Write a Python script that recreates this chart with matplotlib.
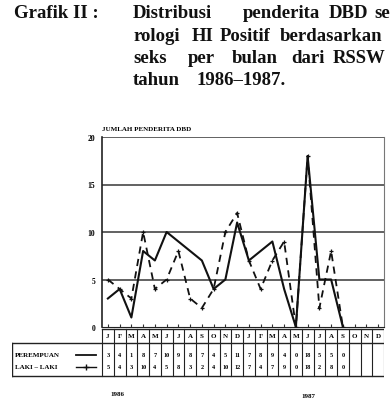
import matplotlib.pyplot as plt
from matplotlib.lines import Line2D

# monthly data, Jan 1986 .. Sep 1987 (Oct-Dec 1987 empty)
months = ['J', 'F', 'M', 'A', 'M', 'J', 'J', 'A', 'S', 'O', 'N', 'D'] * 2
perempuan = [3, 4, 1, 8, 7, 10, 9, 8, 7, 4, 5, 11, 7, 8, 9, 4, 0, 18, 5, 5, 0]
laki_laki = [5, 4, 3, 10, 4, 5, 8, 3, 2, 4, 10, 12, 7, 4, 7, 9, 0, 18, 2, 8, 0]
years = ['1986', '1987']
yticks = [0, 5, 10, 15, 20]

W, H = 392, 406
fig = plt.figure(figsize=(W / 100, H / 100), dpi=100)
serif = 'Liberation Serif'


def fx(x):
    return x / W


def fy(y):
    return 1 - y / H


# caption, words placed one by one (justified text in the scan)
cap = dict(fontsize=13.5, family=serif, weight='bold', va='baseline', color='#111111')
fig.text(fx(14), fy(18), 'Grafik II :', **cap)
words = [
    (18, [(133, 'Distribusi'), (243, 'penderita'), (329, 'DBD'), (374, 'se')]),
    (41, [(133, 'rologi'), (192, 'HI'), (220, 'Positif'), (280, 'berdasarkan')]),
    (63, [(133, 'seks'), (188, 'per'), (232, 'bulan'), (291, 'dari'), (333, 'RSSW')]),
    (85, [(133, 'tahun'), (196, '1986\u20131987.')]),
]
for yb, ws in words:
    for x, w in ws:
        fig.text(fx(x), fy(yb), w, **cap)

# main plot area
left, right, top, bottom = 102, 384, 138, 328
ax = fig.add_axes([fx(left), fy(bottom), (right - left) / W, (bottom - top) / H])
ax.set_xlim(-0.5, 23.5)
ax.set_ylim(0, 20)
for v in [5, 10, 15, 20]:
    ax.axhline(v, color='#555555', lw=1.3, zorder=1)
xs = list(range(len(perempuan)))
ax.plot(xs, perempuan, color='#111111', lw=1.5, zorder=3)
ax.plot(range(len(laki_laki)), laki_laki, color='#111111', lw=1.3,
        ls=(0, (4, 3)), marker='+', ms=3.5, mew=0.9, zorder=3)
ax.spines['top'].set_visible(False)
ax.spines['left'].set_color('#222222')
ax.spines['left'].set_linewidth(1.2)
ax.spines['right'].set_color('#777777')
ax.spines['bottom'].set_color('#222222')
ax.set_xticks(range(24))
ax.set_xticklabels([])
ax.tick_params(axis='x', direction='in', length=2.5, width=0.8, color='#333333')
ax.set_yticks(yticks)
ax.set_yticklabels([str(t) for t in yticks], fontsize=5.5, family=serif, weight='bold')
ax.tick_params(axis='y', length=0, pad=5)
ax.text(0.0, 1.03, 'JUMLAH PENDERITA DBD', transform=ax.transAxes, fontsize=5,
        family=serif, weight='bold', va='bottom', ha='left')

# table under the plot, x in month units, y in pixel rows
tab_l = 12
unit = 24 / (right - left)
x0 = -0.5 - (left - tab_l) * unit
tx = fig.add_axes([fx(tab_l), fy(380), (right - tab_l) / W, (380 - 328) / H])
tx.set_xlim(x0, 23.5)
tx.set_ylim(380, 328)
tx.axis('off')
lk = dict(color='#222222', lw=1.0)
tx.plot([-0.5, 23.5], [330, 330], **lk)
tx.plot([x0, 23.5], [344, 344], **lk)
tx.plot([x0, 23.5], [377, 377], **lk)
tx.plot([x0, x0], [344, 377], **lk)
for i in range(25):
    tx.plot([i - 0.5, i - 0.5], [330, 377], color='#222222', lw=0.8)
tf = dict(family=serif, weight='bold', ha='center', va='center')
for i, m in enumerate(months):
    tx.text(i, 337, m, fontsize=5, **tf)
for i, v in enumerate(perempuan):
    tx.text(i, 356, str(v), fontsize=4.5, **tf)
for i, v in enumerate(laki_laki):
    tx.text(i, 368, str(v), fontsize=4.5, **tf)

# legend labels in the left cell
fig.text(fx(15), fy(356), 'PEREMPUAN', fontsize=5, family=serif, weight='bold', va='center')
fig.text(fx(15), fy(368), 'LAKI \u2013 LAKI', fontsize=5, family=serif, weight='bold', va='center')
fig.add_artist(Line2D([fx(76), fx(96)], [fy(356), fy(356)], color='#111111', lw=1.3))
fig.add_artist(Line2D([fx(76), fx(96)], [fy(368), fy(368)], color='#111111', lw=1.0))
fig.add_artist(Line2D([fx(86)], [fy(368)], marker='+', ms=4, mew=1.0, color='#111111'))

fig.text(fx(117), fy(395), years[0], fontsize=5, family=serif, weight='bold', ha='center', va='center')
fig.text(fx(308), fy(397), years[1], fontsize=5, family=serif, weight='bold', ha='center', va='center')

fig.savefig('out.png', dpi=100, facecolor='white')
